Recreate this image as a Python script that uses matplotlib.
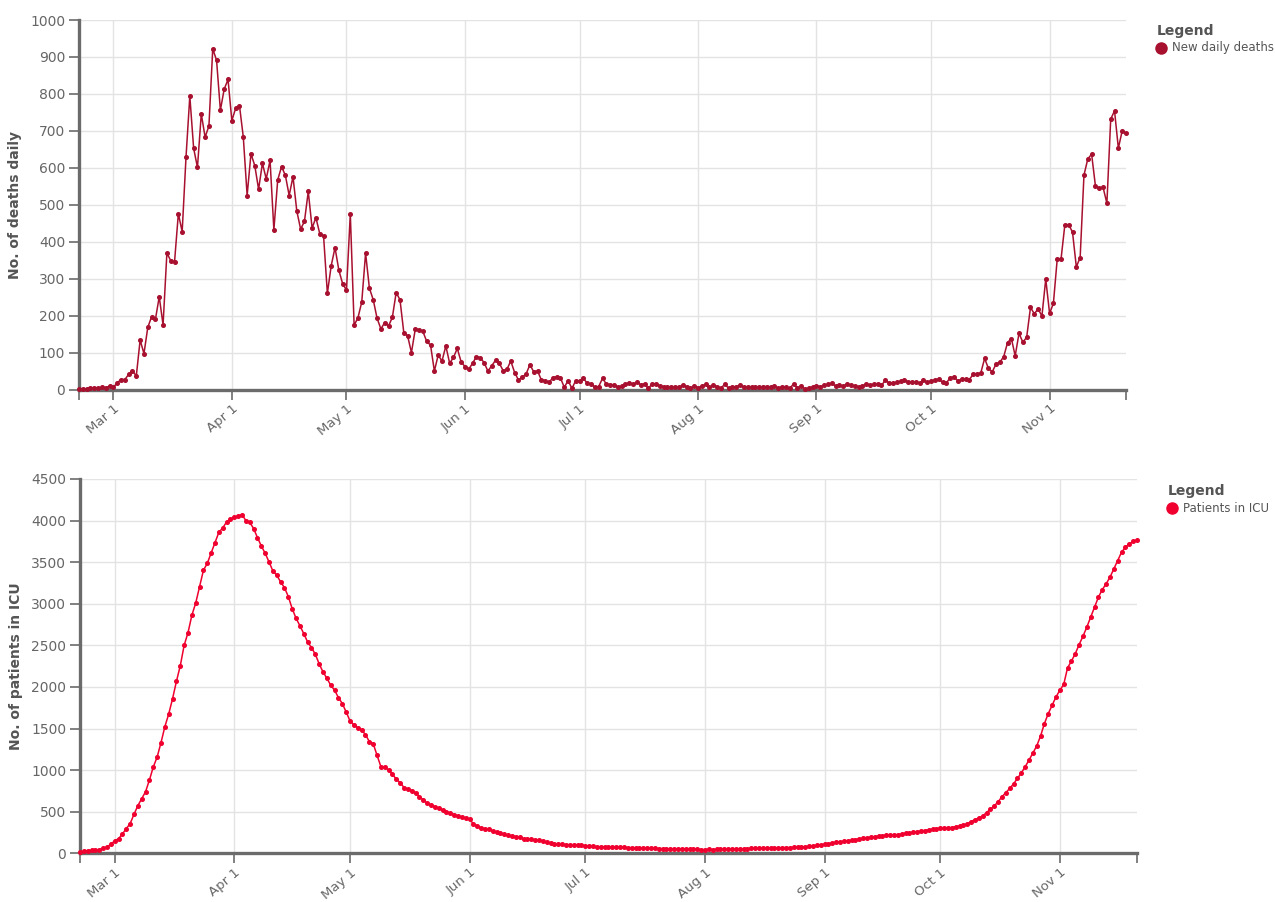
import matplotlib
matplotlib.use("Agg")
import matplotlib.pyplot as plt
from matplotlib.lines import Line2D
import pandas as pd

start_date = "2020-02-21"
n_days = 275

new_daily_deaths = [
    1, 1, 2, 5, 4, 3, 6, 5, 9, 6,
    18, 27, 27, 41, 50, 37, 134, 97, 168, 197,
    190, 251, 175, 369, 349, 345, 476, 427, 628, 794,
    653, 601, 746, 683, 713, 922, 891, 756, 813, 839,
    728, 761, 768, 683, 525, 638, 606, 542, 612, 570,
    620, 432, 567, 603, 580, 525, 576, 483, 434, 455,
    536, 437, 465, 422, 416, 260, 335, 384, 323, 286,
    269, 475, 174, 194, 237, 369, 274, 243, 193, 164,
    181, 172, 195, 262, 243, 154, 145, 100, 163, 162,
    157, 130, 120, 50, 93, 77, 118, 71, 87, 111,
    75, 62, 55, 71, 89, 86, 73, 50, 64, 79,
    71, 51, 55, 77, 46, 26, 33, 42, 67, 48,
    50, 26, 24, 19, 32, 35, 31, 6, 24, 3,
    24, 23, 30, 17, 15, 6, 8, 30, 15, 13,
    12, 7, 9, 15, 18, 14, 20, 13, 15, 3,
    15, 15, 10, 8, 6, 6, 6, 6, 12, 8,
    3, 10, 5, 9, 14, 6, 11, 8, 3, 15,
    3, 6, 8, 11, 6, 6, 6, 6, 6, 8,
    8, 6, 9, 3, 8, 6, 3, 15, 5, 9,
    1, 4, 7, 9, 8, 11, 14, 17, 9, 12,
    9, 15, 12, 9, 8, 9, 15, 12, 14, 14,
    11, 25, 18, 17, 19, 22, 26, 21, 20, 19,
    18, 25, 19, 23, 26, 28, 19, 18, 32, 34,
    23, 28, 29, 27, 41, 42, 45, 84, 57, 48,
    69, 74, 89, 127, 138, 91, 152, 128, 141, 222,
    205, 218, 199, 299, 206, 233, 353, 353, 446, 446,
    426, 332, 357, 580, 624, 637, 551, 545, 547, 504,
    732, 754, 653, 700, 693,
]

patients_in_icu = [
    12, 24, 32, 36, 40, 44, 60, 72, 112, 148,
    176, 232, 297, 357, 469, 573, 657, 741, 882, 1038,
    1158, 1331, 1523, 1675, 1860, 2068, 2256, 2501, 2653, 2862,
    3010, 3206, 3403, 3487, 3611, 3735, 3860, 3912, 3984, 4020,
    4040, 4056, 4072, 4000, 3980, 3904, 3796, 3695, 3607, 3503,
    3395, 3343, 3263, 3194, 3086, 2942, 2826, 2737, 2641, 2541,
    2473, 2393, 2277, 2180, 2104, 2020, 1960, 1872, 1800, 1699,
    1591, 1543, 1511, 1483, 1427, 1343, 1319, 1178, 1042, 1034,
    1002, 950, 890, 850, 790, 770, 754, 729, 681, 641,
    601, 581, 561, 541, 521, 501, 481, 465, 449, 433,
    421, 409, 353, 329, 305, 297, 289, 269, 253, 240,
    228, 216, 208, 200, 192, 172, 168, 168, 160, 156,
    144, 132, 120, 112, 108, 108, 104, 104, 100, 100,
    96, 92, 88, 84, 80, 78, 76, 74, 73, 72,
    71, 70, 68, 67, 66, 65, 63, 62, 60, 58,
    57, 56, 55, 53, 52, 51, 50, 49, 48, 47,
    46, 45, 44, 46, 45, 46, 47, 48, 49, 51,
    52, 54, 55, 56, 58, 59, 61, 62, 63, 64,
    65, 66, 67, 68, 69, 70, 72, 75, 79, 84,
    88, 94, 100, 107, 116, 125, 131, 138, 144, 150,
    158, 165, 172, 179, 186, 193, 200, 207, 212, 216,
    219, 222, 225, 232, 239, 246, 252, 259, 266, 273,
    280, 288, 296, 303, 305, 306, 310, 318, 327, 337,
    355, 380, 405, 425, 448, 490, 530, 570, 620, 680,
    730, 780, 835, 900, 965, 1040, 1120, 1205, 1290, 1410,
    1560, 1680, 1780, 1880, 1960, 2030, 2230, 2310, 2400, 2510,
    2610, 2720, 2840, 2960, 3080, 3170, 3240, 3320, 3420, 3520,
    3620, 3680, 3720, 3750, 3765,
]

month_ticks = ["2020-03-01", "2020-04-01", "2020-05-01", "2020-06-01", "2020-07-01",
               "2020-08-01", "2020-09-01", "2020-10-01", "2020-11-01"]
month_labels = ["Mar 1", "Apr 1", "May 1", "Jun 1", "Jul 1", "Aug 1", "Sep 1", "Oct 1", "Nov 1"]

dates = pd.date_range(start_date, periods=n_days, freq="D")

W, H = 1275, 902
fig = plt.figure(figsize=(W / 100, H / 100), dpi=100)
fig.patch.set_facecolor("white")

AX_GRAY = "#6b6b6b"
TXT_GRAY = "#666666"
GRID = "#e3e3e3"
DEATH_COLOR = "#a8102f"
ICU_COLOR = "#f0002e"


def fig_rect(l, t, r, b):
    return [l / W, 1 - b / H, (r - l) / W, (b - t) / H]


def style_axis(ax, ymax, ystep, ylabel, label_x):
    ax.set_xlim(dates[0], dates[-1])
    ax.set_ylim(0, ymax)
    ax.set_yticks(range(0, ymax + 1, ystep))
    ticks = pd.to_datetime(month_ticks)
    ax.set_xticks(ticks)
    ax.set_xticklabels(month_labels)
    ax.set_xticks([dates[0], dates[-1]], minor=True)
    ax.grid(True, which="major", color=GRID, linewidth=1.0, zorder=0)
    ax.set_axisbelow(True)
    for s in ["top", "right"]:
        ax.spines[s].set_visible(False)
    for s in ["left", "bottom"]:
        ax.spines[s].set_color(AX_GRAY)
        ax.spines[s].set_linewidth(2.4)
    ax.tick_params(axis="both", which="both", color=AX_GRAY, width=1.2, length=7,
                   labelcolor=TXT_GRAY, labelsize=10)
    ax.tick_params(axis="x", which="major", pad=2, labelsize=9.5)
    ax.tick_params(axis="y", pad=3)
    for lab in ax.get_xticklabels():
        lab.set_rotation(40)
        lab.set_ha("right")
        lab.set_va("top")
        lab.set_rotation_mode("anchor")
    ax.set_ylabel(ylabel, fontsize=10, fontweight="bold", color="#555555")
    ax.yaxis.set_label_coords(label_x, 0.5)


ax1 = fig.add_axes(fig_rect(79, 20, 1126, 389.5))
ax1.plot(dates, new_daily_deaths, color=DEATH_COLOR, linewidth=1.1, marker="o",
         markersize=2.6, zorder=3, clip_on=False)
style_axis(ax1, 1000, 100, "No. of deaths daily", -0.054)

ax2 = fig.add_axes(fig_rect(80, 479, 1137, 853.3))
ax2.plot(dates, patients_in_icu, color=ICU_COLOR, linewidth=1.1, marker="o",
         markersize=2.6, zorder=3, clip_on=False)
style_axis(ax2, 4500, 500, "No. of patients in ICU", -0.054)


def legend(x, y, label, color):
    fig.text(x / W, 1 - y / H, "Legend", fontsize=10, fontweight="bold",
             color="#555555", ha="left", va="center")
    fig.add_artist(Line2D([(x + 4) / W], [1 - (y + 17) / H], marker="o", markersize=8,
                          color=color, linestyle="none", transform=fig.transFigure))
    fig.text((x + 15) / W, 1 - (y + 17) / H, label, fontsize=8.5, color="#555555",
             ha="left", va="center")


legend(1157, 31, "New daily deaths", DEATH_COLOR)
legend(1168, 491, "Patients in ICU", ICU_COLOR)

fig.savefig("out.png", dpi=100, facecolor="white")
